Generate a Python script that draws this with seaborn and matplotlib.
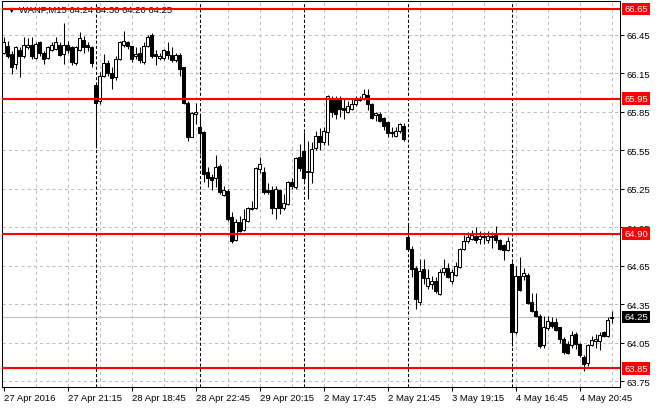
import numpy as np
import pandas as pd
import seaborn as sns
import matplotlib.pyplot as plt

# WANP M15 bars (one row per day in the comments)
opens = [
    # 27 Apr
    66.31, 66.36, 66.30, 66.22, 66.33, 66.28, 66.35, 66.37, 66.27, 66.39, 66.31, 66.27,
    66.33, 66.34, 66.37, 66.30, 66.37, 66.35, 66.23, 66.33, 66.41, 66.37, 66.35,
    # 28 Apr
    66.06, 65.93, 66.13, 66.23, 66.15, 66.12, 66.26, 66.37, 66.39, 66.36, 66.28, 66.31, 66.24,
    66.36, 66.45, 66.30, 66.27, 66.27, 66.32, 66.29, 66.25, 66.29, 66.20, 65.92, 65.65, 65.83,
    # 29 Apr
    65.73, 65.69, 65.38, 65.34, 65.33, 65.43, 65.20, 65.23, 65.03, 64.85, 64.99, 64.93, 65.00,
    65.09, 65.10, 65.40, 65.38, 65.24, 65.24, 65.10, 65.24, 65.10, 65.13, 65.30, 65.26, 65.50,
    # 2 May
    65.54, 65.39, 65.38, 65.57, 65.66, 65.61, 65.69, 65.95, 65.95, 65.96, 65.88, 65.85, 65.87,
    65.91, 65.95, 65.95, 65.98, 65.91, 65.82, 65.83, 65.80, 65.77, 65.69, 65.66, 65.70, 65.74,
    # 3 May
    64.87, 64.78, 64.63, 64.37, 64.62, 64.49, 64.51, 64.53, 64.43, 64.60, 64.63, 64.53, 64.58,
    64.64, 64.78, 64.84, 64.86, 64.88, 64.86, 64.88, 64.85, 64.88, 64.89, 64.85, 64.81, 64.77,
    # 4 May
    64.66, 64.13, 64.57, 64.57, 64.58, 64.37, 64.30, 64.26, 64.03, 64.16, 64.21, 64.21, 64.17,
    64.08, 64.04, 64.03, 64.12, 64.04, 63.94, 63.89, 64.03, 64.06, 64.06, 64.13, 64.10, 64.24,
]
highs = [
    66.43, 66.40, 66.32, 66.36, 66.35, 66.43, 66.42, 66.43, 66.39, 66.40, 66.32, 66.36,
    66.39, 66.43, 66.39, 66.54, 66.40, 66.36, 66.36, 66.47, 66.44, 66.39, 66.36,
    66.07, 66.16, 66.30, 66.25, 66.20, 66.28, 66.40, 66.48, 66.40, 66.36, 66.35, 66.35, 66.39,
    66.45, 66.46, 66.33, 66.31, 66.34, 66.39, 66.35, 66.31, 66.31, 66.20, 65.93, 65.85, 65.92,
    65.83, 65.70, 65.42, 65.36, 65.51, 65.44, 65.27, 65.25, 65.07, 65.01, 65.04, 65.09, 65.11,
    65.15, 65.42, 65.50, 65.42, 65.29, 65.27, 65.27, 65.25, 65.21, 65.31, 65.33, 65.50, 65.60,
    65.69, 65.62, 65.61, 65.70, 65.72, 65.73, 65.98, 65.97, 65.97, 65.97, 65.95, 65.93, 65.95,
    65.97, 65.97, 66.03, 66.03, 65.92, 65.85, 65.85, 65.81, 65.78, 65.73, 65.73, 65.76, 65.76,
    64.97, 64.80, 64.65, 64.70, 64.70, 64.62, 64.57, 64.56, 64.62, 64.70, 64.67, 64.62, 64.68,
    64.79, 64.89, 64.91, 64.93, 64.95, 64.92, 64.91, 64.92, 64.91, 64.96, 64.86, 64.82, 64.87,
    64.68, 64.65, 64.72, 64.63, 64.59, 64.44, 64.44, 64.27, 64.26, 64.26, 64.25, 64.24, 64.17,
    64.09, 64.06, 64.14, 64.13, 64.05, 63.95, 64.04, 64.10, 64.12, 64.13, 64.14, 64.25, 64.30,
]
lows = [
    66.30, 66.27, 66.14, 66.18, 66.12, 66.27, 66.34, 66.26, 66.26, 66.28, 66.22, 66.26,
    66.32, 66.33, 66.28, 66.22, 66.31, 66.21, 66.21, 66.32, 66.31, 66.32, 66.20,
    65.57, 65.91, 66.12, 66.13, 66.03, 66.10, 66.25, 66.35, 66.34, 66.24, 66.26, 66.23, 66.22,
    66.35, 66.27, 66.21, 66.25, 66.25, 66.26, 66.24, 66.24, 66.13, 65.91, 65.62, 65.65, 65.75,
    65.52, 65.30, 65.26, 65.24, 65.26, 65.21, 65.19, 65.00, 64.83, 64.84, 64.91, 64.92, 64.99,
    65.08, 65.09, 65.37, 65.21, 65.21, 65.05, 65.01, 65.05, 65.08, 65.12, 65.25, 65.25, 65.39,
    65.31, 65.17, 65.29, 65.55, 65.55, 65.59, 65.59, 65.81, 65.79, 65.81, 65.79, 65.84, 65.86,
    65.89, 65.93, 65.94, 65.86, 65.79, 65.78, 65.77, 65.71, 65.65, 65.65, 65.65, 65.68, 65.62,
    64.77, 64.56, 64.31, 64.34, 64.51, 64.47, 64.47, 64.44, 64.42, 64.58, 64.55, 64.51, 64.57,
    64.63, 64.77, 64.83, 64.85, 64.83, 64.82, 64.82, 64.83, 64.79, 64.83, 64.77, 64.69, 64.76,
    64.02, 64.12, 64.45, 64.54, 64.35, 64.29, 64.25, 64.01, 64.01, 64.15, 64.16, 64.14, 64.05,
    63.96, 63.96, 64.01, 64.00, 63.94, 63.83, 63.87, 64.02, 64.01, 63.99, 64.09, 64.09, 64.20,
]
closes = [
    66.39, 66.28, 66.20, 66.35, 66.28, 66.37, 66.37, 66.28, 66.38, 66.31, 66.26, 66.35,
    66.37, 66.39, 66.29, 66.37, 66.33, 66.24, 66.35, 66.42, 66.35, 66.35, 66.23,
    65.92, 66.13, 66.23, 66.15, 66.11, 66.26, 66.39, 66.40, 66.36, 66.26, 66.30, 66.25, 66.36,
    66.43, 66.28, 66.28, 66.28, 66.33, 66.29, 66.25, 66.29, 66.18, 65.92, 65.65, 65.84, 65.85,
    65.68, 65.36, 65.33, 65.32, 65.42, 65.22, 65.24, 65.01, 64.84, 64.99, 64.92, 65.01, 65.10,
    65.10, 65.41, 65.44, 65.22, 65.22, 65.10, 65.25, 65.10, 65.14, 65.30, 65.27, 65.49, 65.41,
    65.33, 65.38, 65.56, 65.66, 65.61, 65.70, 65.97, 65.85, 65.83, 65.87, 65.86, 65.89, 65.91,
    65.94, 65.94, 65.99, 65.91, 65.80, 65.84, 65.78, 65.74, 65.68, 65.68, 65.70, 65.75, 65.64,
    64.78, 64.62, 64.39, 64.61, 64.55, 64.55, 64.53, 64.45, 64.60, 64.63, 64.56, 64.60, 64.65,
    64.78, 64.84, 64.87, 64.89, 64.85, 64.88, 64.87, 64.88, 64.87, 64.85, 64.78, 64.77, 64.84,
    64.13, 64.57, 64.46, 64.59, 64.36, 64.30, 64.26, 64.02, 64.17, 64.22, 64.18, 64.15, 64.08,
    63.98, 63.97, 64.11, 64.04, 63.95, 63.88, 64.03, 64.07, 64.08, 64.11, 64.10, 64.23, 64.25,
]

day_starts = [23, 49, 75, 101, 127]
tick_bars = [0, 16, 32, 48, 64, 80, 96, 112, 128, 144]
tick_labels = ["27 Apr 2016", "27 Apr 21:15", "28 Apr 18:45", "28 Apr 22:45", "29 Apr 20:15",
               "2 May 17:45", "2 May 21:45", "3 May 19:15", "4 May 16:45", "4 May 20:45"]
price_ticks = [63.75, 64.05, 64.35, 64.65, 64.95, 65.25, 65.55, 65.85, 66.15, 66.45]
levels = [66.65, 65.95, 64.90, 63.85]
last_price = 64.25
header = "\u25bc WANP,M15 64.24 64.30 64.20 64.25"

sns.set_style("white")
plt.rcParams['font.family'] = ['Liberation Sans', 'DejaVu Sans']
fs = 6.8

df = pd.DataFrame({'open': opens, 'high': highs, 'low': lows, 'close': closes})
df['bar'] = np.arange(len(df))
df['up'] = df['close'] >= df['open']
df['body_lo'] = df[['open', 'close']].min(axis=1)
df['body_h'] = (df['close'] - df['open']).abs().clip(lower=0.004)

fig = plt.figure(figsize=(6.6, 4.1), dpi=100)
ax = fig.add_axes([2/660, 22/410, 618/660, 386/410])
ax.set_xlim(-0.375, 154.125)
ax.set_ylim(63.704, 66.712)

# grid
for p in price_ticks:
    ax.axhline(p, color='#c0c0c0', lw=0.75, ls=(0, (3, 3)), zorder=0.5)
for b in range(8, len(df), 8):
    ax.axvline(b, color='#c0c0c0', lw=0.75, ls=(0, (3, 3)), zorder=0.5)
# period separators
for b in day_starts:
    ax.axvline(b, color='black', lw=0.75, ls=(0, (3, 2)), zorder=0.8)

# bid line
ax.axhline(last_price, color='#c0c0c0', lw=0.75, zorder=0.9)

# candles
ax.vlines(df['bar'], df['low'], df['high'], color='black', lw=0.75, zorder=2)
ax.bar(df['bar'], df['body_h'], bottom=df['body_lo'], width=0.55,
       color=np.where(df['up'], 'white', 'black'), edgecolor='black',
       linewidth=0.75, zorder=3)

# horizontal levels
trans = ax.get_yaxis_transform()
for lv in levels:
    ax.axhline(lv, color='red', lw=1.5, zorder=4)
    ax.text(1.0065, lv, f"{lv:.2f}", transform=trans, ha='left', va='center',
            color='white', fontsize=fs, clip_on=False, zorder=6,
            bbox=dict(boxstyle='square,pad=0.2', fc='red', ec='none'))
ax.text(1.0065, last_price, f"{last_price:.2f}", transform=trans, ha='left', va='center',
        color='white', fontsize=fs, clip_on=False, zorder=6,
        bbox=dict(boxstyle='square,pad=0.2', fc='black', ec='none'))

ax.text(0.008, 0.979, header, transform=ax.transAxes, ha='left', va='center',
        fontsize=fs, color='black', zorder=3.5)

# axes
ax.yaxis.tick_right()
ax.set_yticks(price_ticks)
ax.set_yticklabels([f"{p:.2f}" for p in price_ticks])
ax.set_xticks(tick_bars)
ax.set_xticklabels(tick_labels, ha='left')
ax.tick_params(axis='y', right=True, left=False, length=3, width=0.75, pad=1.5,
               labelsize=fs, colors='black', direction='out')
ax.tick_params(axis='x', bottom=True, length=3, width=0.75, pad=1.5,
               labelsize=fs, colors='black', direction='out')
ax.grid(False)
for s in ax.spines.values():
    s.set_visible(True)
    s.set_color('black')
    s.set_linewidth(0.75)

fig.savefig('out.png', dpi=100)
